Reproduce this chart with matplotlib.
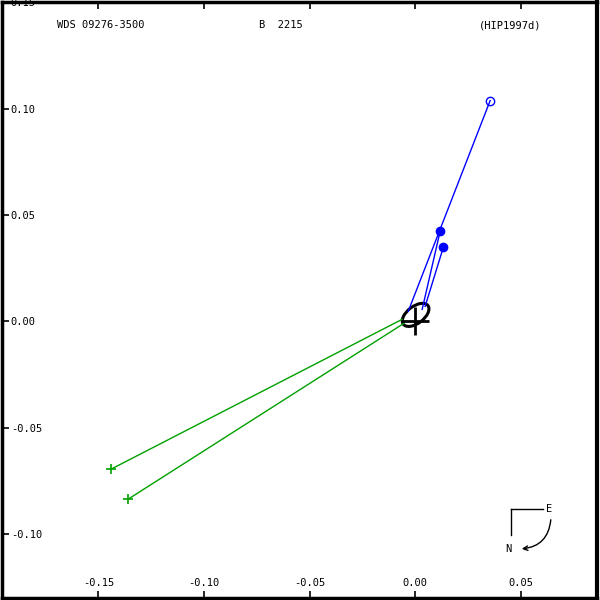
import numpy as np
import matplotlib.pyplot as plt
from matplotlib.patches import Ellipse, FancyArrowPatch

# observações (x, y) em segundos de arco
obs_blue_open_x = [0.0355]
obs_blue_open_y = [0.1038]
obs_blue_x = [0.0118, 0.0133]
obs_blue_y = [0.0423, 0.0347]
obs_green_x = [-0.1439, -0.1358]
obs_green_y = [-0.0695, -0.0836]

# posições previstas na órbita (fim dos resíduos)
pred_blue_open_x = [-0.0033]
pred_blue_open_y = [0.0047]
pred_blue_x = [0.0033, 0.0047]
pred_blue_y = [0.0056, 0.0070]
pred_green_x = [-0.0062, -0.0052]
pred_green_y = [0.0009, -0.0009]

# elipse da órbita
orb_cx, orb_cy = 0.0002, 0.0030
orb_a, orb_b, orb_ang = 0.0073, 0.0040, 37

title_left = "WDS 09276-3500"
title_mid = "B  2215"
title_right = "(HIP1997d)"

xticks = [-0.15, -0.10, -0.05, 0.00, 0.05]
yticks = [-0.10, -0.05, 0.00, 0.05, 0.10, 0.15]

plt.rcParams['font.family'] = 'DejaVu Sans Mono'

fig = plt.figure(figsize=(6, 6), dpi=100)
ax = fig.add_axes([0.004, 0.004, 0.991, 0.992])

# resíduos
for xo, yo, xp, yp in zip(obs_blue_open_x, obs_blue_open_y, pred_blue_open_x, pred_blue_open_y):
    ax.plot([xo, xp], [yo, yp], color='blue', lw=1)
for xo, yo, xp, yp in zip(obs_blue_x, obs_blue_y, pred_blue_x, pred_blue_y):
    ax.plot([xo, xp], [yo, yp], color='blue', lw=1)
for xo, yo, xp, yp in zip(obs_green_x, obs_green_y, pred_green_x, pred_green_y):
    ax.plot([xo, xp], [yo, yp], color='#00a000', lw=1)

ax.plot(obs_blue_open_x, obs_blue_open_y, 'o', mfc='none', mec='blue', ms=6, mew=1)
ax.plot(obs_blue_x, obs_blue_y, 'o', color='blue', ms=6)
ax.plot(obs_green_x, obs_green_y, '+', color='#00a000', ms=7, mew=1.2)

ax.add_patch(Ellipse((orb_cx, orb_cy), 2 * orb_a, 2 * orb_b, angle=orb_ang,
                     fill=False, ec='black', lw=2.2))
ax.plot([0], [0], '+', color='black', ms=20, mew=2)

ax.set_xlim(-0.1955, 0.0861)
ax.set_ylim(-0.1300, 0.1500)

ax.set_xticks(xticks)
ax.set_xticklabels([f"{v:.2f}" for v in xticks])
ax.set_yticks(yticks)
ax.set_yticklabels([f"{v:.2f}" for v in yticks])
ax.tick_params(axis='both', direction='in', length=5, width=1.2, labelsize=7.5)
ax.tick_params(axis='x', top=True, pad=-7)
ax.tick_params(axis='y', pad=-6)
for lab in ax.get_yticklabels():
    lab.set_ha('left')
for lab in ax.get_xticklabels():
    lab.set_va('bottom')
for sp in ax.spines.values():
    sp.set_linewidth(2.5)
ax.spines['right'].set_linewidth(3)

ax.text(0.166, 0.962, title_left, transform=ax.transAxes, ha='center', va='center', fontsize=7.5)
ax.text(0.469, 0.962, title_mid, transform=ax.transAxes, ha='center', va='center', fontsize=7.5)
ax.text(0.854, 0.962, title_right, transform=ax.transAxes, ha='center', va='center', fontsize=7.5)

# bússola
fx = lambda p: p / 600
fy = lambda p: 1 - p / 600
fig.add_artist(plt.Line2D([fx(511), fx(543)], [fy(509), fy(509)], color='black', lw=1))
fig.add_artist(plt.Line2D([fx(511), fx(511)], [fy(509), fy(535)], color='black', lw=1))
fig.text(fx(549), fy(509), "E", ha='center', va='center', fontsize=7.5)
fig.text(fx(508), fy(549), "N", ha='center', va='center', fontsize=7.5)
fig.add_artist(FancyArrowPatch((fx(551), fy(517)), (fx(519), fy(549)),
                               transform=fig.transFigure, connectionstyle="arc3,rad=-0.45",
                               arrowstyle='->', mutation_scale=8, color='black', lw=1))

fig.savefig('out.png', dpi=100)
